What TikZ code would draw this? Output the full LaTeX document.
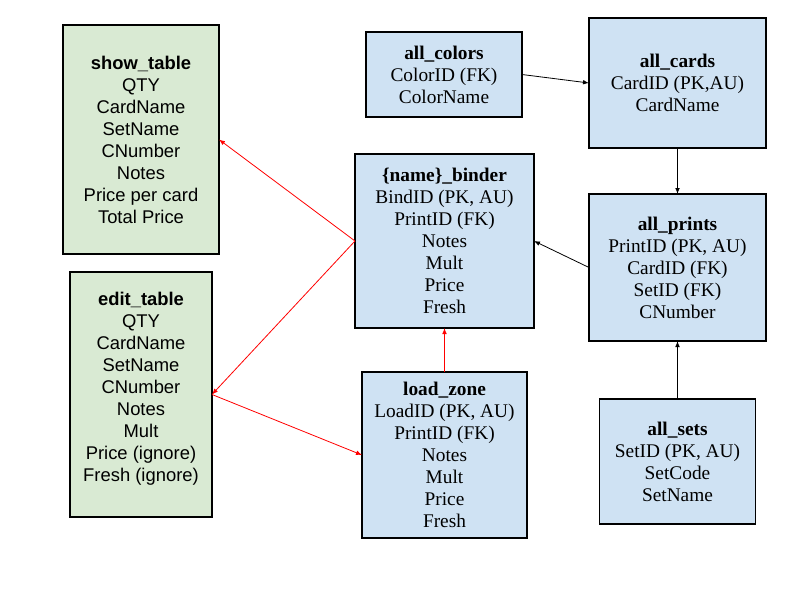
\documentclass[tikz,border=0pt]{standalone}
\usepackage{fontspec}
\setmainfont{Liberation Serif}
\setsansfont{Liberation Sans}
\usetikzlibrary{arrows.meta}
\definecolor{tblgreen}{HTML}{D9EAD3}
\definecolor{tblblue}{HTML}{CFE2F3}
\begin{document}
\begin{tikzpicture}[x=0.75pt,y=-0.75pt,
    box/.style={draw, line width=0.9pt, inner sep=0pt, outer sep=0pt, align=center},
    viewbox/.style={box, fill=tblgreen, font=\sffamily\fontsize{13.8}{16.5}\selectfont},
    tblbox/.style={box, fill=tblblue, font=\fontsize{14.5}{16.5}\selectfont},
    link/.style={line width=0.6pt, -{Latex[length=4.5pt,width=3.5pt]}}]
    \useasboundingbox (0,0) rectangle (800,600);
    % views
    \node[viewbox, minimum width=117pt, minimum height=171.75pt] (show) at (141,139.5)
        {\textbf{show\_table}\\QTY\\CardName\\SetName\\CNumber\\Notes\\Price per card\\Total Price};
    \node[viewbox, minimum width=106.5pt, minimum height=183.75pt] (edit) at (141,394.5)
        {\textbf{edit\_table}\\QTY\\CardName\\SetName\\CNumber\\Notes\\Mult\\Price (ignore)\\Fresh (ignore)\\[-4.5pt]};
    % tables
    \node[tblbox, minimum width=117pt, minimum height=63.75pt] (colors) at (444,74.5)
        {\textbf{all\_colors}\\ColorID (FK)\\ColorName};
    \node[tblbox, minimum width=132.75pt, minimum height=97.5pt] (cards) at (677.5,83)
        {\textbf{all\_cards}\\CardID (PK,AU)\\CardName};
    \node[tblbox, minimum width=134.25pt, minimum height=130.5pt] (binder) at (444.5,241)
        {\textbf{\{name\}\_binder}\\BindID (PK, AU)\\PrintID (FK)\\Notes\\Mult\\Price\\Fresh};
    \node[tblbox, minimum width=132.75pt, minimum height=110.25pt] (prints) at (677.5,267.5)
        {\textbf{all\_prints}\\PrintID (PK, AU)\\CardID (FK)\\SetID (FK)\\CNumber};
    \node[tblbox, minimum width=123.75pt, minimum height=124.5pt] (load) at (444.5,455)
        {\textbf{load\_zone}\\LoadID (PK, AU)\\PrintID (FK)\\Notes\\Mult\\Price\\Fresh};
    \node[tblbox, minimum width=117pt, minimum height=93.75pt] (sets) at (677.5,461.5)
        {\textbf{all\_sets}\\SetID (PK, AU)\\SetCode\\SetName};
    % links
    \draw[link, red] (binder.west) -- (show.east);
    \draw[link, red] (binder.west) -- (edit.east);
    \draw[link, red] (edit.east) -- (load.west);
    \draw[link, red] (load.north) -- (binder.south);
    \draw[link] (colors.east) -- (cards.west);
    \draw[link] (cards.south) -- (prints.north);
    \draw[link] (prints.west) -- (binder.east);
    \draw[link] (sets.north) -- (prints.south);
\end{tikzpicture}
\end{document}
